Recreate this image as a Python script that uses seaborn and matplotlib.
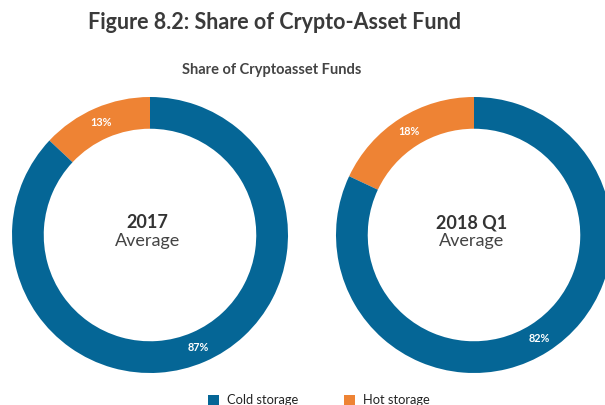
import matplotlib
matplotlib.use("Agg")
import matplotlib.pyplot as plt
import seaborn as sns

# shares of crypto-asset funds (%)
periods = ["2017", "2018 Q1"]
storage_types = ["Hot storage", "Cold storage"]
hot_share = [13, 18]
cold_share = [87, 82]

sns.set_theme(style="white")
plt.rcParams["font.family"] = ["Lato", "DejaVu Sans"]

colors = {"Cold storage": "#056696", "Hot storage": "#EE8334"}

fig = plt.figure(figsize=(6.05, 4.05), dpi=100)
fig.patch.set_facecolor("white")

fig.text(0.454, 0.945, "Figure 8.2: Share of Crypto-Asset Fund",
         ha="center", va="center", fontsize=15.5, fontweight="bold", color="#3a3a3a")
fig.text(0.449, 0.828, "Share of Cryptoasset Funds",
         ha="center", va="center", fontsize=10.5, fontweight="bold", color="#444444")

# donut centres / radius in pixels (from top-left)
centres = [(150, 235), (474, 235)]
radius = 138
W, H = 605, 405

wedge_handles = None
for i, period in enumerate(periods):
    cx, cy = centres[i]
    ax = fig.add_axes([(cx - radius) / W, (H - cy - radius) / H,
                       2 * radius / W, 2 * radius / H])
    vals = [hot_share[i], cold_share[i]]
    wedges, texts, autotexts = ax.pie(
        vals, startangle=90, counterclock=True,
        colors=[colors[s] for s in storage_types],
        autopct=lambda p: f"{p:.0f}%", pctdistance=0.885,
        wedgeprops=dict(width=0.23, linewidth=0),
        textprops=dict(color="white", fontsize=7.8, fontweight="bold"))
    ax.set_xlim(-1, 1)
    ax.set_ylim(-1, 1)
    ax.set_aspect("equal")
    ax.axis("off")
    ax.text(-0.02, 0.09, period, ha="center", va="center", fontsize=13,
            fontweight="bold", color="#333333")
    ax.text(-0.02, -0.045, "Average", ha="center", va="center", fontsize=13,
            color="#444444")
    if wedge_handles is None:
        wedge_handles = wedges

leg = fig.legend([wedge_handles[1], wedge_handles[0]], ["Cold storage", "Hot storage"],
                 loc="center", bbox_to_anchor=(0.527, 0.012), ncol=2, frameon=False,
                 fontsize=9.3, handlelength=0.85, handleheight=0.85, handletextpad=0.6,
                 columnspacing=3.6)
for t in leg.get_texts():
    t.set_color("#222222")

fig.savefig("out.png", dpi=100, facecolor="white")
